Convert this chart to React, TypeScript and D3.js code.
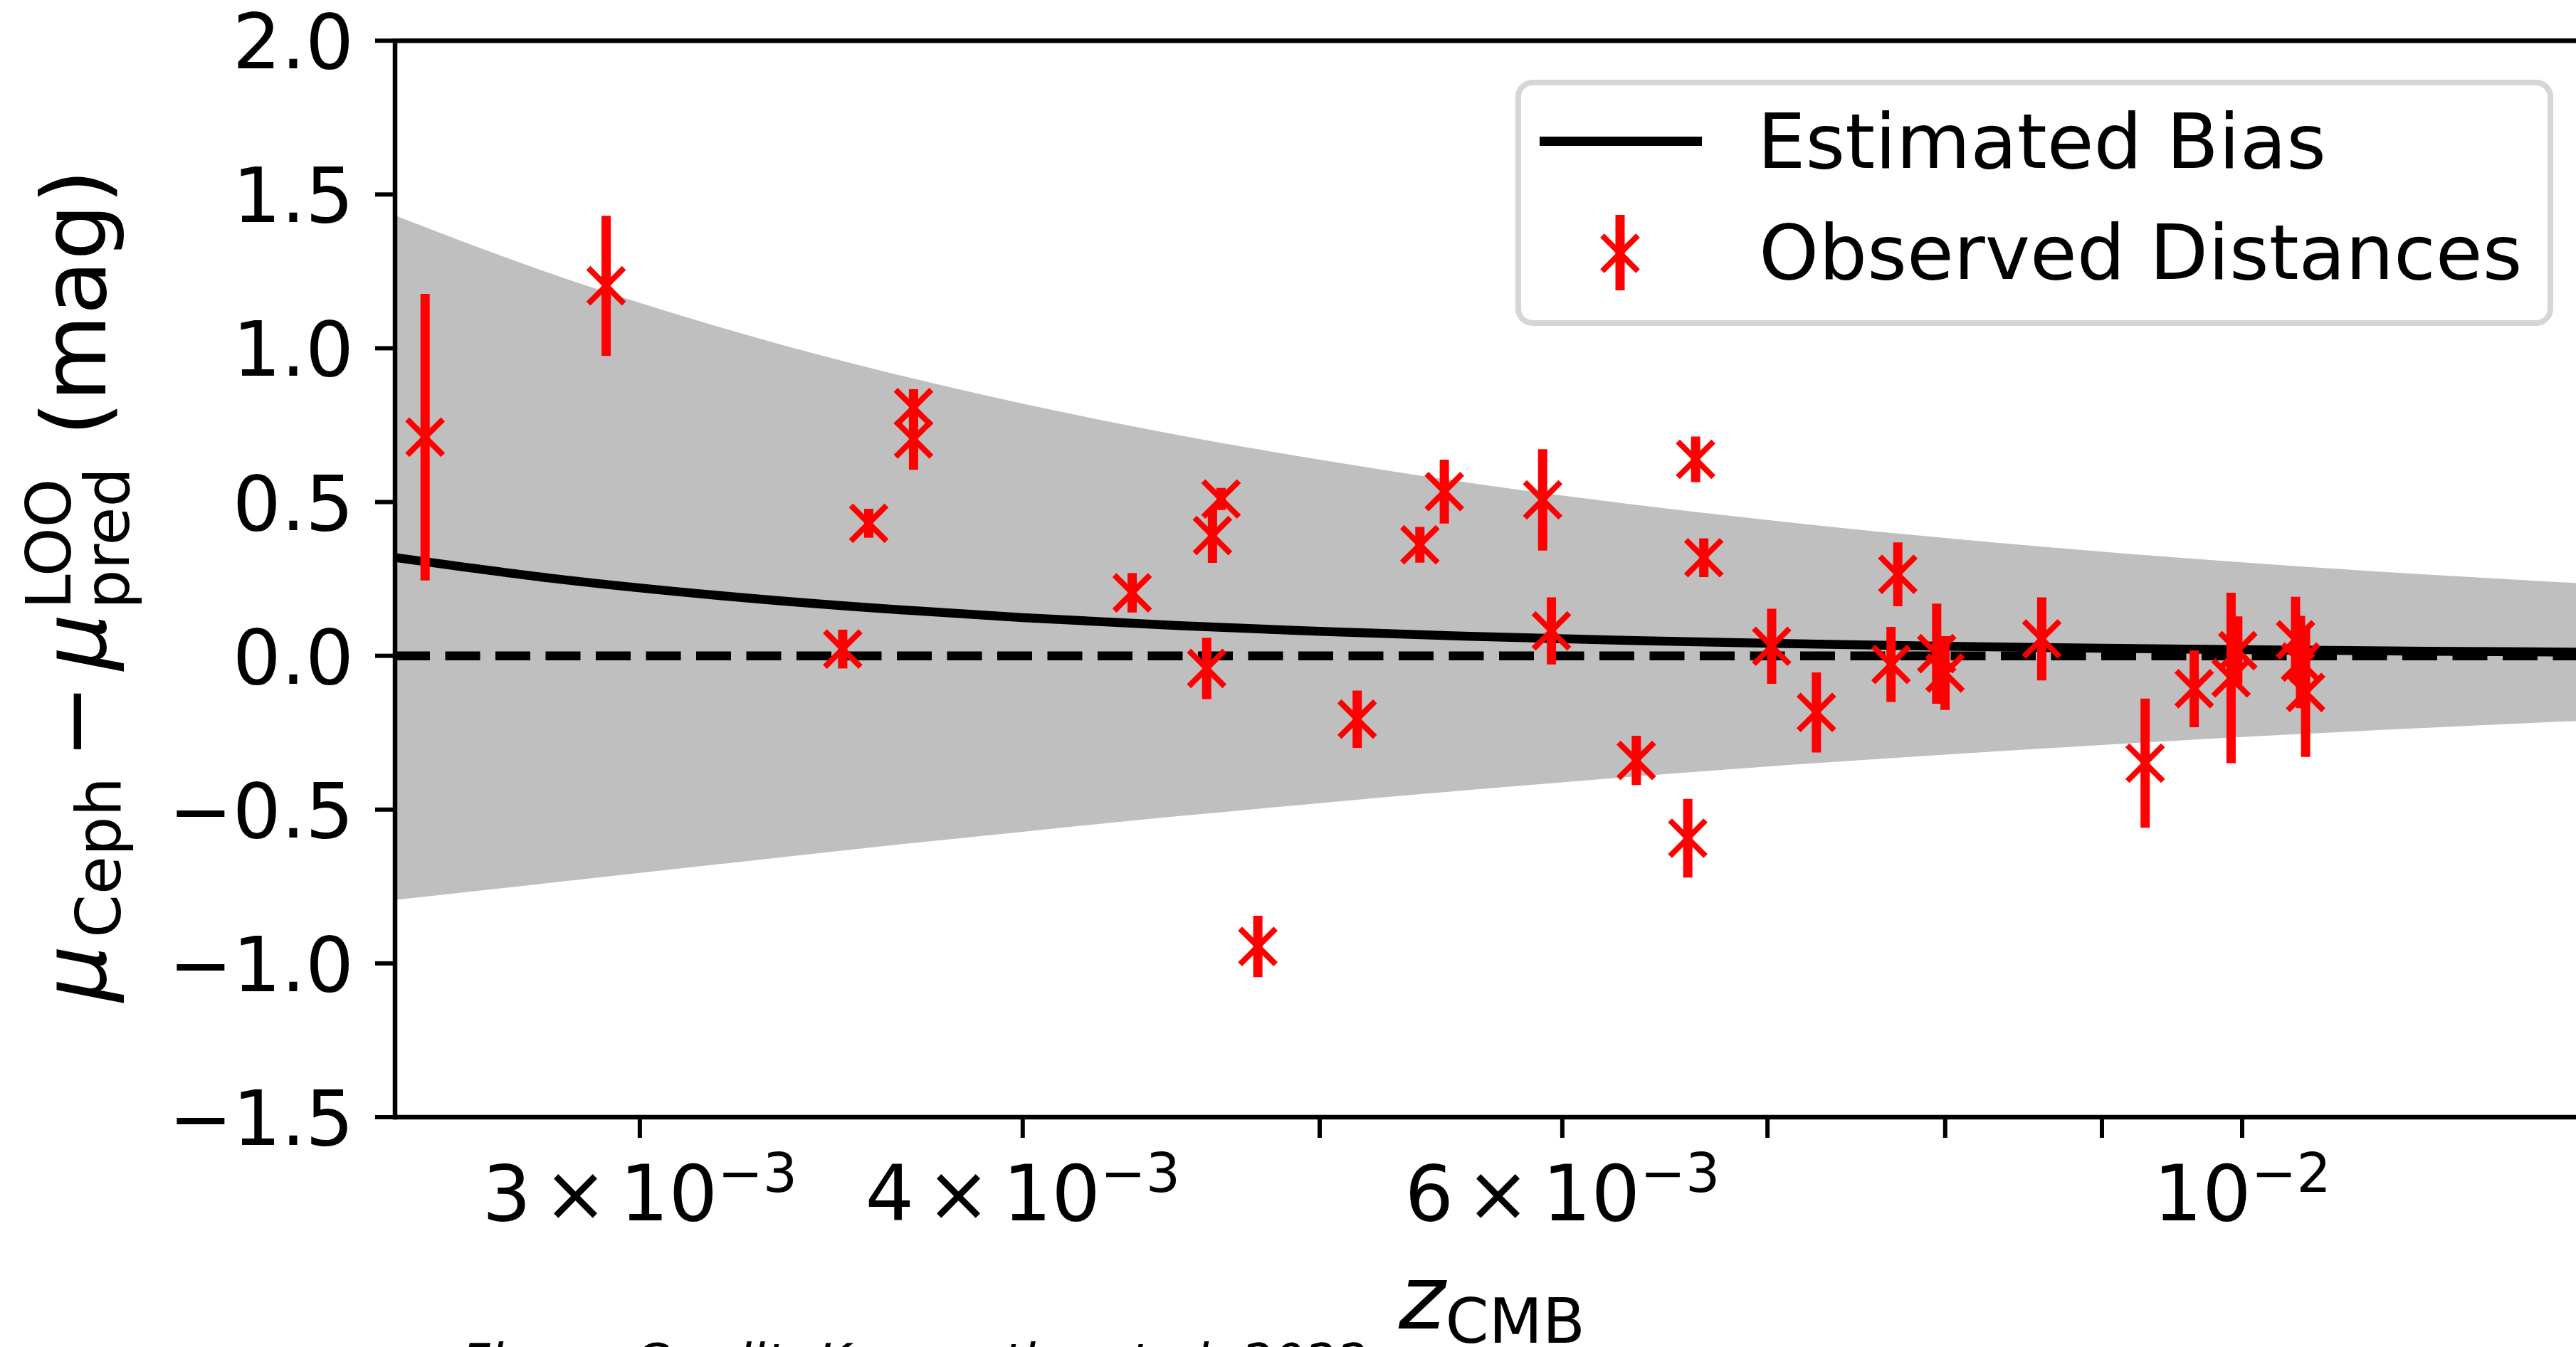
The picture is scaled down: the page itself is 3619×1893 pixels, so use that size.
import React, { useEffect } from 'react';
import * as d3 from 'd3';

const W = 3619;
const H = 1893;

// Observed distances (z_CMB, residual, 1-sigma error)
const zObs = [
  0.002553, 0.002925, 0.003494, 0.003563, 0.003685, 0.003685, 0.004343, 0.004593, 0.004613,
  0.004643, 0.004773, 0.005143, 0.005391, 0.005491, 0.005912, 0.005951, 0.006343, 0.006593,
  0.006632, 0.006673, 0.007022, 0.007262, 0.00772, 0.007681, 0.007949, 0.007999, 0.008602,
  0.009297, 0.009646, 0.009917, 0.009967, 0.010409, 0.010448, 0.010488,
];
const muObs = [
  0.711, 1.203, 0.022, 0.431, 0.807, 0.705, 0.205, -0.041, 0.391,
  0.51, -0.945, -0.206, 0.361, 0.534, 0.507, 0.081, -0.34, -0.593,
  0.639, 0.319, 0.031, -0.184, 0.265, -0.028, 0.007, -0.056, 0.055,
  -0.349, -0.107, -0.072, 0.017, 0.052, -0.02, -0.119,
];
const errObs = [
  0.466, 0.228, 0.063, 0.047, 0.06, 0.1, 0.064, 0.1, 0.089,
  0.036, 0.1, 0.093, 0.058, 0.104, 0.165, 0.109, 0.08, 0.128,
  0.074, 0.063, 0.122, 0.13, 0.104, 0.122, 0.163, 0.12, 0.135,
  0.21, 0.125, 0.277, 0.111, 0.14, 0.15, 0.21,
];

// Estimated bias curve and its band
const zGrid = [0.00249, 0.0028, 0.0032, 0.0036, 0.004, 0.0045, 0.005, 0.0056, 0.0063, 0.007, 0.008, 0.009, 0.01, 0.0115, 0.013, 0.0145];
const biasVals = [0.321, 0.2535, 0.1941, 0.1534, 0.1242, 0.0981, 0.0795, 0.0634, 0.0501, 0.0406, 0.0311, 0.0245, 0.0199, 0.015, 0.0118, 0.0095];
const bandUpper = [1.436, 1.246, 1.063, 0.926, 0.82, 0.717, 0.638, 0.562, 0.4945, 0.4415, 0.383, 0.339, 0.304, 0.264, 0.234, 0.21];
const bandLower = [-0.795, -0.739, -0.675, -0.619, -0.572, -0.521, -0.479, -0.436, -0.394, -0.36, -0.321, -0.29, -0.264, -0.234, -0.21, -0.192];

const yTicks = [-1.5, -1.0, -0.5, 0.0, 0.5, 1.0, 1.5, 2.0];
const yTickLabels = ['\u22121.5', '\u22121.0', '\u22120.5', '0.0', '0.5', '1.0', '1.5', '2.0'];
const xTicks = [0.003, 0.004, 0.005, 0.006, 0.007, 0.008, 0.009, 0.01];
const xTickMantissa = ['3', '4', '', '6', '', '', '', ''];
const xTickExponent = ['\u22123', '\u22123', '', '\u22123', '', '', '', '\u22122'];

const legendLabels = ['Estimated Bias', 'Observed Distances'];
const captionText = 'Figure Credit: Kenworthy et al. 2022';

const FONT = '"DejaVu Sans", "Liberation Sans", sans-serif';
const RED = '#ff0000';

export default function App() {
  useEffect(() => {
    document.body.style.margin = '0';
    document.body.style.overflow = 'hidden';
  }, []);

  const left = 555, right = 3627, top = 57.2, bottom = 1570;
  const x = d3.scaleLog().domain([0.002496, 0.012906]).range([left, right]);
  const y = d3.scaleLinear().domain([-1.5, 2.0]).range([bottom, top]);

  const bandData = zGrid.map((z, i) => ({ z, lo: bandLower[i], hi: bandUpper[i] }));
  const area = d3.area<any>()
    .x((d) => x(d.z))
    .y0((d) => y(d.lo))
    .y1((d) => y(d.hi))
    .curve(d3.curveMonotoneX);
  const biasLine = d3.line<any>()
    .x((d: any) => x(d.z))
    .y((d: any) => y(d.b))
    .curve(d3.curveMonotoneX);
  const biasData = zGrid.map((z, i) => ({ z, b: biasVals[i] }));

  const ms = 25; // marker half-size
  const Marker = ({ cx, cy }: { cx: number; cy: number }) => (
    <g stroke={RED} strokeWidth={8}>
      <line x1={cx - ms} y1={cy - ms} x2={cx + ms} y2={cy + ms} />
      <line x1={cx - ms} y1={cy + ms} x2={cx + ms} y2={cy - ms} />
    </g>
  );

  const yLabelParts = [
    { t: '\u03bc', size: 125, italic: true, start: 1408, base: 148 },
    { t: 'Ceph', size: 87.5, italic: false, start: 1318, base: 169 },
    { t: '\u2212', size: 125, italic: false, start: 1066, base: 148 },
    { t: '\u03bc', size: 125, italic: true, start: 942, base: 148 },
    { t: 'pred', size: 87.5, italic: false, start: 856, base: 181 },
    { t: 'LOO', size: 87.5, italic: false, start: 856, base: 99 },
    { t: '(mag)', size: 125, italic: false, start: 613, base: 148 },
  ];

  return (
    <svg
      width={W}
      height={H}
      viewBox={`0 0 ${W} ${H}`}
      style={{ position: 'absolute', left: 0, top: 0, background: '#fff' }}
      fontFamily={FONT}
    >
      <defs>
        <clipPath id="plotClip">
          <rect x={left} y={top} width={right - left} height={bottom - top} />
        </clipPath>
      </defs>
      <rect x={0} y={0} width={W} height={H} fill="#fff" />

      <g clipPath="url(#plotClip)">
        <path d={area(bandData) || ''} fill="#bfbfbf" />
        <path d={biasLine(biasData) || ''} fill="none" stroke="#000" strokeWidth={12.5} />
        <line x1={left} x2={right} y1={y(0)} y2={y(0)} stroke="#000" strokeWidth={12.5} strokeDasharray="49 21.5" />
        {zObs.map((z, i) => (
          <g key={i}>
            <line
              x1={x(z)} x2={x(z)}
              y1={y(muObs[i] - errObs[i])} y2={y(muObs[i] + errObs[i])}
              stroke={RED} strokeWidth={13}
            />
            <Marker cx={x(z)} cy={y(muObs[i])} />
          </g>
        ))}
      </g>

      {/* spines */}
      <g stroke="#000" strokeWidth={6.5} fill="none">
        <line x1={left} x2={left} y1={top - 3.25} y2={bottom + 3.25} />
        <line x1={left - 3.25} x2={right} y1={bottom} y2={bottom} />
        <line x1={left - 3.25} x2={right} y1={top} y2={top} />
        <line x1={right} x2={right} y1={top} y2={bottom} />
      </g>

      {/* y ticks */}
      {yTicks.map((v, i) => (
        <g key={'yt' + i}>
          <line x1={left - 28} x2={left} y1={y(v)} y2={y(v)} stroke="#000" strokeWidth={6} />
          <text x={497} y={y(v) + 39} fontSize={107} textAnchor="end" fill="#000">
            {yTickLabels[i]}
          </text>
        </g>
      ))}

      {/* x ticks */}
      {xTicks.map((v, i) => (
        <g key={'xt' + i}>
          <line x1={x(v)} x2={x(v)} y1={bottom} y2={bottom + 29} stroke="#000" strokeWidth={6} />
          {xTickExponent[i] !== '' && (
            <text x={x(v)} y={1715} fontSize={108} textAnchor="middle" fill="#000">
              {xTickMantissa[i] !== '' && <tspan>{xTickMantissa[i]}</tspan>}
              {xTickMantissa[i] !== '' && <tspan dx={17}>{'\u00d7'}</tspan>}
              <tspan dx={xTickMantissa[i] !== '' ? 17 : 0}>10</tspan>
              <tspan dy={-40} fontSize={76}>{xTickExponent[i]}</tspan>
            </text>
          )}
        </g>
      ))}

      {/* x label */}
      <text x={2096} y={1867} fontSize={125} textAnchor="middle" fill="#000">
        <tspan fontStyle="italic">z</tspan>
        <tspan dy={20} fontSize={87.5}>CMB</tspan>
      </text>

      {/* y label */}
      {yLabelParts.map((p, i) => (
        <text
          key={'yl' + i}
          transform={`translate(${p.base},${p.start}) rotate(-90)`}
          fontSize={p.size}
          fontStyle={p.italic ? 'italic' : 'normal'}
          fill="#000"
        >
          {p.t}
        </text>
      ))}

      {/* legend */}
      <g>
        <rect x={2133} y={116} width={1450} height={338} rx={20} ry={20} fill="#fff" stroke="#d6d6d6" strokeWidth={8} />
        <line x1={2163} x2={2391} y1={198.5} y2={198.5} stroke="#000" strokeWidth={13} />
        <text x={2469} y={236} fontSize={107} fill="#000">{legendLabels[0]}</text>
        <line x1={2276} x2={2276} y1={302} y2={408} stroke={RED} strokeWidth={13} />
        <Marker cx={2276} cy={356} />
        <text x={2471} y={392} fontSize={107} fill="#000">{legendLabels[1]}</text>
      </g>

      {/* caption (cut off at the bottom of the image) */}
      <text x={648} y={1938} fontSize={70} fontStyle="italic" fill="#000">{captionText}</text>
    </svg>
  );
}
